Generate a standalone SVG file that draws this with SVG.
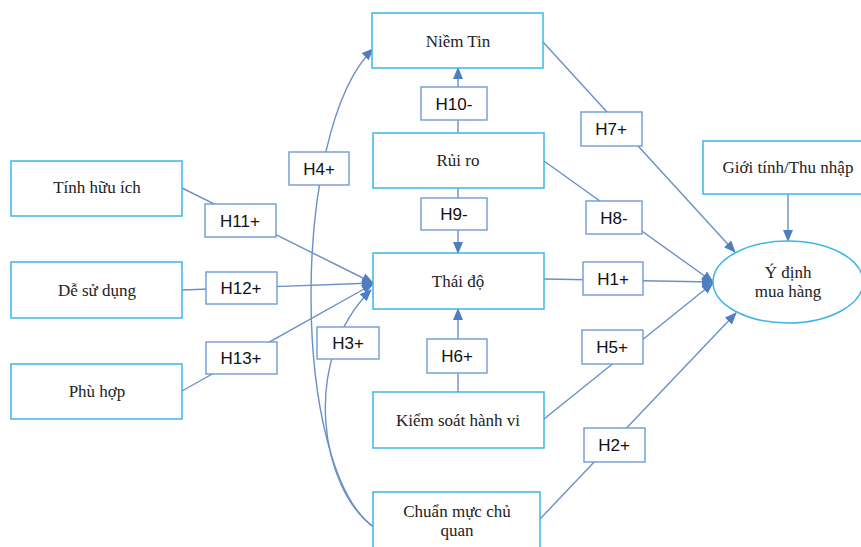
<svg xmlns="http://www.w3.org/2000/svg" width="861" height="547" viewBox="0 0 861 547">
<style>
.node{fill:#fff;stroke:#3DB5E8;stroke-width:1.5}
.lab{fill:#fff;stroke:#6E9AD6;stroke-width:1.4}
.nt{font-family:"Liberation Serif","Times New Roman",serif;font-size:17px;fill:#222;text-anchor:middle}
.lt{font-family:"Liberation Sans",Arial,sans-serif;font-size:17px;fill:#111;text-anchor:middle}
.c{fill:none;stroke:#6A8FC9;stroke-width:1.4}
.a{marker-end:url(#arr)}
</style>
<defs>
<marker id="arr" markerUnits="userSpaceOnUse" markerWidth="12" markerHeight="10" viewBox="0 0 12 10" refX="11" refY="5" orient="auto">
<path d="M0,0 L12,5 L0,10 Z" fill="#4F7DC2"/>
</marker>
</defs>
<rect width="861" height="547" fill="#fff"/>
<g id="connectors">
<line class="c a" x1="458" y1="133" x2="458" y2="68"/>
<line class="c a" x1="458" y1="188" x2="458" y2="253"/>
<line class="c a" x1="458" y1="392" x2="458" y2="309"/>
<line class="c a" x1="182" y1="188" x2="373" y2="283"/>
<line class="c a" x1="182" y1="290" x2="373" y2="283"/>
<line class="c a" x1="182" y1="391" x2="373" y2="284"/>
<path class="c a" d="M375,528 C290,470 290,130 373,49"/>
<path class="c a" d="M375,528 C320,490 300,360 371,290"/>
<line class="c a" x1="543" y1="42" x2="735" y2="252"/>
<line class="c a" x1="544" y1="161" x2="713" y2="282"/>
<line class="c a" x1="544" y1="279" x2="713" y2="282"/>
<line class="c a" x1="544" y1="419" x2="713" y2="283"/>
<line class="c a" x1="540" y1="519" x2="736" y2="313"/>
<line class="c a" x1="788" y1="194" x2="788" y2="241"/>
</g>
<g id="niem-tin"><rect class="node" x="372" y="13" width="171" height="55"/><text class="nt" x="458" y="47">Niềm Tin</text></g>
<g id="rui-ro"><rect class="node" x="373" y="133" width="171" height="55"/><text class="nt" x="458" y="166">Rủi ro</text></g>
<g id="thai-do"><rect class="node" x="373" y="253" width="171" height="56"/><text class="nt" x="458" y="287">Thái độ</text></g>
<g id="kiem-soat"><rect class="node" x="373" y="392" width="171" height="56"/><text class="nt" x="458" y="426">Kiểm soát hành vi</text></g>
<g id="chuan-muc"><rect class="node" x="373" y="492" width="167" height="70"/><text class="nt" x="457" y="517">Chuẩn mực chủ</text><text class="nt" x="457" y="536">quan</text></g>
<g id="tinh-huu-ich"><rect class="node" x="11" y="161" width="171" height="55"/><text class="nt" x="97" y="193">Tính hữu ích</text></g>
<g id="de-su-dung"><rect class="node" x="11" y="262" width="171" height="56"/><text class="nt" x="97" y="296">Dễ sử dụng</text></g>
<g id="phu-hop"><rect class="node" x="11" y="364" width="171" height="55"/><text class="nt" x="97" y="397">Phù hợp</text></g>
<g id="gioi-tinh"><rect class="node" x="703" y="141" width="172" height="53"/><text class="nt" x="788" y="173">Giới tính/Thu nhập</text></g>
<g id="y-dinh"><ellipse class="node" cx="788" cy="282" rx="75" ry="41"/><text class="nt" x="788" y="278">Ý định</text><text class="nt" x="788" y="297">mua hàng</text></g>
<g id="labels">
<g id="h10"><rect class="lab" x="421" y="87" width="66" height="33"/><text class="lt" x="454" y="110">H10-</text></g>
<g id="h9"><rect class="lab" x="421" y="198" width="66" height="32"/><text class="lt" x="454" y="220">H9-</text></g>
<g id="h6"><rect class="lab" x="427" y="339" width="60" height="34"/><text class="lt" x="457" y="362">H6+</text></g>
<g id="h11"><rect class="lab" x="205" y="204" width="71" height="33"/><text class="lt" x="240" y="227">H11+</text></g>
<g id="h12"><rect class="lab" x="206" y="272" width="71" height="32"/><text class="lt" x="241" y="294">H12+</text></g>
<g id="h13"><rect class="lab" x="206" y="342" width="71" height="32"/><text class="lt" x="241" y="364">H13+</text></g>
<g id="h4"><rect class="lab" x="289" y="152" width="60" height="33"/><text class="lt" x="319" y="175">H4+</text></g>
<g id="h3"><rect class="lab" x="317" y="327" width="62" height="32"/><text class="lt" x="348" y="349">H3+</text></g>
<g id="h7"><rect class="lab" x="581" y="112" width="61" height="34"/><text class="lt" x="611" y="135">H7+</text></g>
<g id="h8"><rect class="lab" x="586" y="201" width="56" height="33"/><text class="lt" x="614" y="224">H8-</text></g>
<g id="h1"><rect class="lab" x="583" y="262" width="60" height="33"/><text class="lt" x="613" y="285">H1+</text></g>
<g id="h5"><rect class="lab" x="582" y="330" width="61" height="34"/><text class="lt" x="612" y="353">H5+</text></g>
<g id="h2"><rect class="lab" x="584" y="428" width="61" height="34"/><text class="lt" x="614" y="451">H2+</text></g>
</g>
</svg>
